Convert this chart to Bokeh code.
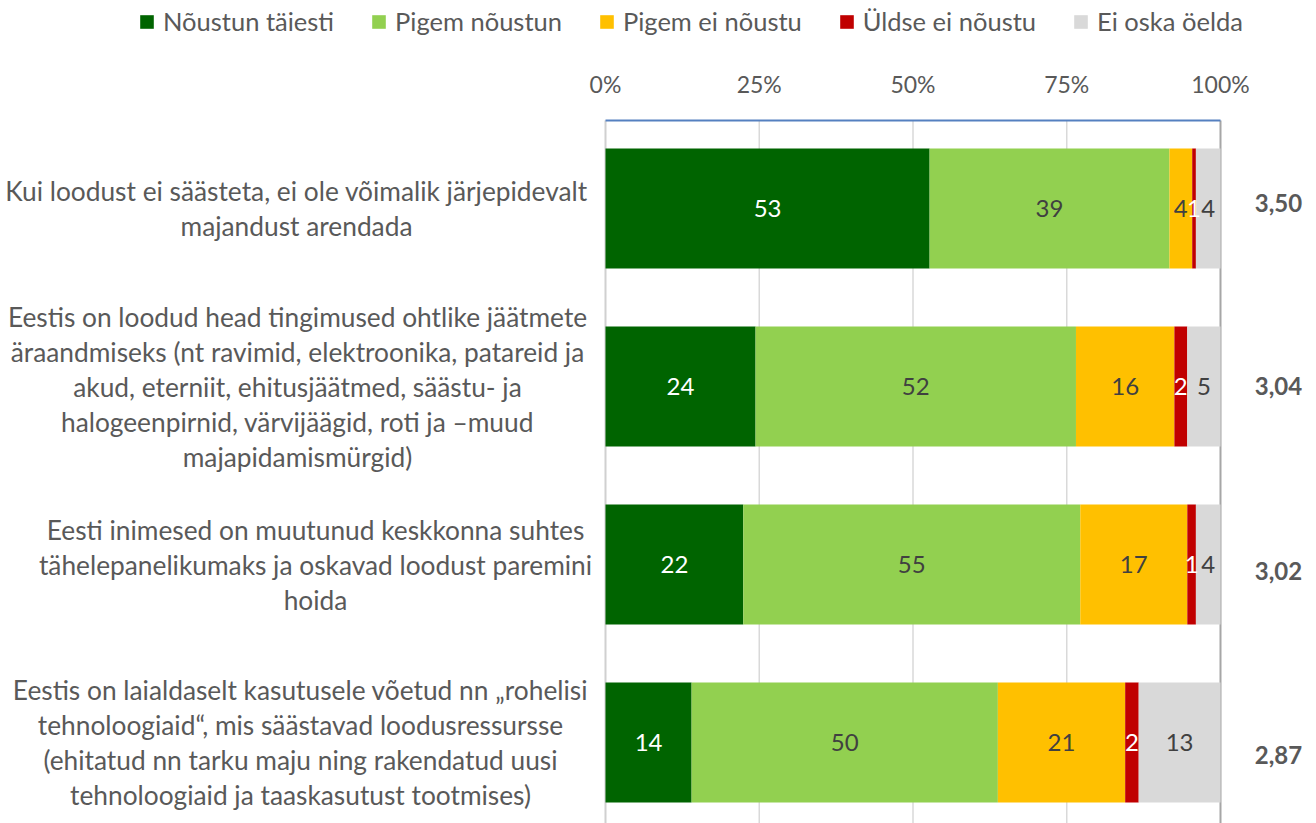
from bokeh.plotting import figure
from bokeh.models import ColumnDataSource, Range1d, Label, Legend, LegendItem
from bokeh.core.properties import value
from bokeh.embed import file_html
from bokeh.resources import INLINE

# ---------------- data ----------------
statements = [
    ["Kui loodust ei säästeta, ei ole võimalik järjepidevalt", "majandust arendada"],
    ["Eestis on loodud head tingimused ohtlike jäätmete",
     "äraandmiseks (nt ravimid, elektroonika, patareid ja",
     "akud, eterniit, ehitusjäätmed, säästu- ja",
     "halogeenpirnid, värvijäägid, roti ja –muud",
     "majapidamismürgid)"],
    ["Eesti inimesed on muutunud keskkonna suhtes",
     "tähelepanelikumaks ja oskavad loodust paremini",
     "hoida"],
    ["Eestis on laialdaselt kasutusele võetud nn „rohelisi",
     "tehnoloogiaid“, mis säästavad loodusressursse",
     "(ehitatud nn tarku maju ning rakendatud uusi",
     "tehnoloogiaid ja taaskasutust tootmises)"],
]
series = ["Nõustun täiesti", "Pigem nõustun", "Pigem ei nõustu", "Üldse ei nõustu", "Ei oska öelda"]
v_full = [52.7, 24.4, 22.4, 14.0]
v_rather = [39.0, 52.1, 54.8, 49.8]
v_rather_not = [3.7, 16.0, 17.4, 20.7]
v_not = [0.6, 2.1, 1.4, 2.2]
v_dk = [4.0, 5.4, 4.0, 13.3]
lab_full = ["53", "24", "22", "14"]
lab_rather = ["39", "52", "55", "50"]
lab_rather_not = ["4", "16", "17", "21"]
lab_not = ["1", "2", "1", "2"]
lab_dk = ["4", "5", "4", "13"]
means = ["3,50", "3,04", "3,02", "2,87"]
x_ticks = [0, 25, 50, 75, 100]
x_tick_labels = ["0%", "25%", "50%", "75%", "100%"]

# ---------------- style ----------------
FONT = "Lato"
colors = ["#006400", "#92d050", "#ffc000", "#c00000", "#d9d9d9"]
label_colors = ["#ffffff", "#404040", "#404040", "#ffffff", "#404040"]
grid_colors = ["#d0d0d0", "#d9d9d9", "#d9d9d9", "#d9d9d9", "#a6a6a6"]
grid_widths = [2, 1.5, 1.5, 1.5, 2]
TXT = "#595959"
W, H = 1316, 823
PX_X = 6.15          # pixels per percent
PX_ROW = 178.0       # pixels per category row
X0_PX = 605          # pixel of 0 %
ROW0_PX = 208        # pixel of first row centre
TOP_PX = 120         # top edge of plotting area
TICK_PX = 83         # tick label centre
BAR_H = 0.674
LINE_PX = 35.0
cat_center_px = [296, 297, 315, 300]
MEAN_X_PX = 1278
mean_offsets_px = [-6, -1, 6, 12]

x_lo = -X0_PX / PX_X
x_hi = (W - X0_PX) / PX_X
y_top = -ROW0_PX / PX_ROW
y_bot = (len(statements) - 1) + (H - (ROW0_PX + (len(statements) - 1) * PX_ROW)) / PX_ROW
y_frame = (TOP_PX - ROW0_PX) / PX_ROW
y_tick = (TICK_PX - ROW0_PX) / PX_ROW

rows = list(range(len(statements)))
keys = ["full", "rather", "rather_not", "not", "dk"]
vals = [v_full, v_rather, v_rather_not, v_not, v_dk]
labs = [lab_full, lab_rather, lab_rather_not, lab_not, lab_dk]

p = figure(width=W, height=H, output_backend="svg", toolbar_location=None,
           x_range=Range1d(x_lo, x_hi), y_range=Range1d(y_bot, y_top),
           min_border=0)
p.outline_line_color = None
p.axis.visible = False
p.grid.visible = False

# vertical grid lines
p.segment(x0=x_ticks, x1=x_ticks, y0=[y_frame] * 5, y1=[y_bot] * 5,
          line_color=grid_colors, line_width=grid_widths)

# bars
src = ColumnDataSource(dict(y=rows, **{k: v for k, v in zip(keys, vals)}))
renderers = p.hbar_stack(keys, y="y", height=BAR_H, color=colors, line_color=None, source=src)

# top axis line
p.segment(x0=[x_ticks[0]], x1=[x_ticks[-1]], y0=[y_frame], y1=[y_frame], line_color="#5580c0", line_width=2)

# tick labels
p.text(x=x_ticks, y=[y_tick] * 5, text=x_tick_labels, text_align="center", text_baseline="middle",
       text_font=value(FONT), text_font_size="23px", text_color=TXT)

# data labels in the segment centres
tx, ty, tt, tc = [], [], [], []
for i in rows:
    left = 0.0
    for j in range(len(keys)):
        w = vals[j][i]
        tx.append(left + w / 2)
        ty.append(i)
        tt.append(labs[j][i])
        tc.append(label_colors[j])
        left += w
p.text(x="x", y="y", text="t", text_color="c", source=ColumnDataSource(dict(x=tx, y=ty, t=tt, c=tc)),
       text_align="center", text_baseline="middle", text_font=value(FONT), text_font_size="24px")

# category labels (left)
for i, lines in enumerate(statements):
    n = len(lines)
    cx = (cat_center_px[i] - X0_PX) / PX_X
    for k, line in enumerate(lines):
        yy = i + (k - (n - 1) / 2) * LINE_PX / PX_ROW
        p.add_layout(Label(x=cx, y=yy, text=line, text_align="center", text_baseline="middle",
                           text_font=FONT, text_font_size="26.3px", text_color=TXT))

# mean values (right)
mean_x = (MEAN_X_PX - X0_PX) / PX_X
for i, m in enumerate(means):
    p.add_layout(Label(x=mean_x, y=i + mean_offsets_px[i] / PX_ROW, text=m, text_align="center",
                       text_baseline="middle", text_font=FONT, text_font_size="24px",
                       text_font_style="bold", text_color=TXT))

legend = Legend(items=[LegendItem(label=s, renderers=[r]) for s, r in zip(series, renderers)],
                orientation="horizontal", location=(138, 787), glyph_width=17, glyph_height=17,
                label_standoff=8, spacing=36, padding=0, margin=0, border_line_color=None,
                background_fill_alpha=0, label_text_font=FONT, label_text_font_size="25.5px",
                label_text_color=TXT)
p.add_layout(legend, "center")

open("out.html", "w").write(file_html(p, INLINE))
